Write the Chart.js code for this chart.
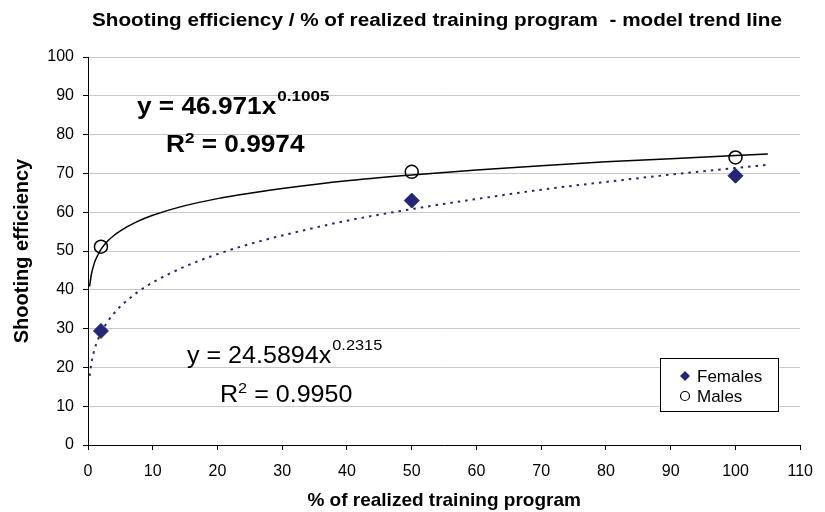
<!DOCTYPE html>
<html><head><meta charset="utf-8">
<script src="https://cdn.jsdelivr.net/npm/chart.js@4"></script>
<style>html,body{margin:0;padding:0;background:#fff}</style>
</head><body>
<canvas id="c" width="825" height="512"></canvas>
<script>
// ---- data ----
const chartTitle = "Shooting efficiency / % of realized training program  - model trend line";
const xTitle = "% of realized training program";
const yTitle = "Shooting efficiency";
const seriesNames = ["Females", "Males"];
const femalesX = [2, 50, 100];
const femalesY = [29.4, 63.0, 69.4];
const malesX = [2, 50, 100];
const malesY = [51.1, 70.4, 74.1];
// trend lines
const trendX = [0.25, 0.5, 1, 1.5, 2, 3, 4, 5, 7.5, 10, 15, 20, 25, 30, 40, 50, 60, 70, 80, 90, 100, 105];
const maleTrendY = [40.9, 43.8, 47.0, 48.9, 50.4, 52.5, 54.0, 55.2, 57.5, 59.2, 61.7, 63.5, 64.9, 66.1, 68.1, 69.6, 70.9, 72.0, 73.0, 73.8, 74.6, 75.0];
const femaleTrendY = [17.8, 20.9, 24.6, 27.0, 28.9, 31.7, 33.9, 35.7, 39.2, 41.9, 46.0, 49.2, 51.8, 54.0, 57.8, 60.8, 63.4, 65.8, 67.8, 69.7, 71.4, 72.2];
const maleEq = ["y = 46.971x", "0.1005", "0.9974"];
const femaleEq = ["y = 24.5894x", "0.2315", "0.9950"];
const xMin = 0, xMax = 110, xStep = 10;
const yMin = 0, yMax = 100, yStep = 10;

const NAVY = '#262676';
const FONT = "'Liberation Sans', Arial, sans-serif";
Chart.defaults.font.family = FONT;
Chart.defaults.color = '#000';

const pts = (xs, ys) => xs.map((x, i) => ({x, y: ys[i]}));

const overlay = {
  id: 'overlay',
  afterDraw(chart) {
    const ctx = chart.ctx;
    ctx.save();
    ctx.fillStyle = '#000';
    ctx.textBaseline = 'alphabetic';
    ctx.textAlign = 'left';

    function st(text, x, y, font, sx) {
      ctx.font = font;
      ctx.save();
      ctx.translate(x, y);
      ctx.scale(sx, 1);
      ctx.fillText(text, 0, 0);
      ctx.restore();
      return ctx.measureText(text).width * sx;
    }

    // title
    ctx.font = 'bold 18px ' + FONT;
    const tw = ctx.measureText(chartTitle).width;
    const tsx = 690 / tw;
    st(chartTitle, 437 - 345, 26, 'bold 18px ' + FONT, tsx);

    function eq(lines, x1, y1, x2, y2, weight, sx) {
      let w = st(lines[0], x1, y1, weight + ' 23px ' + FONT, sx);
      st(lines[1], x1 + w + 1, y1 - 13, weight + ' 15px ' + FONT, sx);
      let wr = st('R', x2, y2, weight + ' 23px ' + FONT, sx);
      let w2 = st('2', x2 + wr, y2 - 9, weight + ' 15px ' + FONT, sx);
      st(' = ' + lines[2], x2 + wr + w2, y2, weight + ' 23px ' + FONT, sx);
    }
    eq(maleEq, 137, 114, 166, 152, 'bold', 1.14);
    eq(femaleEq, 187, 363, 220, 402, 'normal', 1.09);

    // legend
    const lx = 660, ly = 358, lw = 118, lh = 53;
    ctx.fillStyle = '#fff';
    ctx.fillRect(lx, ly, lw, lh);
    ctx.strokeStyle = '#000';
    ctx.lineWidth = 1;
    ctx.strokeRect(lx + 0.5, ly + 0.5, lw, lh);
    ctx.font = '17px ' + FONT;
    let cy = 376;
    ctx.fillStyle = NAVY;
    ctx.beginPath();
    ctx.moveTo(685, cy - 5); ctx.lineTo(690, cy); ctx.lineTo(685, cy + 5); ctx.lineTo(680, cy);
    ctx.closePath(); ctx.fill();
    ctx.fillStyle = '#000';
    ctx.fillText(seriesNames[0], 697, 382);
    cy = 396;
    ctx.beginPath();
    ctx.arc(685, cy, 4.5, 0, Math.PI * 2);
    ctx.strokeStyle = '#000'; ctx.lineWidth = 1.2; ctx.stroke();
    ctx.fillText(seriesNames[1], 697, 402);
    ctx.restore();
  }
};

new Chart(document.getElementById('c'), {
  type: 'scatter',
  data: {
    datasets: [
      { label: seriesNames[0], data: pts(femalesX, femalesY), pointStyle: 'rectRot', pointRadius: 7.5,
        backgroundColor: NAVY, borderColor: NAVY, borderWidth: 1 },
      { label: seriesNames[1], data: pts(malesX, malesY), pointStyle: 'circle', pointRadius: 6.5,
        backgroundColor: 'rgba(255,255,255,0)', borderColor: '#000', borderWidth: 1.5 },
      { label: 'Males trend', data: pts(trendX, maleTrendY), showLine: true, pointRadius: 0,
        borderColor: '#000', borderWidth: 1.5, cubicInterpolationMode: 'monotone' },
      { label: 'Females trend', data: pts(trendX, femaleTrendY), showLine: true, pointRadius: 0,
        borderColor: NAVY, borderWidth: 2, borderDash: [2.5, 5], cubicInterpolationMode: 'monotone' }
    ]
  },
  options: {
    responsive: false,
    animation: false,
    layout: { padding: { top: 57, left: 0, right: 17, bottom: 0 } },
    plugins: { legend: { display: false }, title: { display: false }, tooltip: { enabled: false } },
    scales: {
      x: {
        type: 'linear', min: xMin, max: xMax,
        ticks: { stepSize: xStep, font: { size: 16 }, color: '#000', padding: 12, maxRotation: 0 },
        grid: { drawOnChartArea: false, tickLength: 5, tickColor: '#000' },
        border: { color: '#000', width: 1 },
        title: { display: true, text: xTitle, font: { size: 19, weight: 'bold' }, color: '#000', padding: { top: 0, bottom: 0 } },
        afterFit(s) { s.height = 67; }
      },
      y: {
        type: 'linear', min: yMin, max: yMax,
        ticks: { stepSize: yStep, font: { size: 16 }, color: '#000', padding: 9 },
        grid: { color: '#c8c8c8', tickLength: 5, tickColor: '#000' },
        border: { color: '#000', width: 1 },
        title: { display: true, text: yTitle, font: { size: 20, weight: 'bold' }, color: '#000', padding: { top: 10, bottom: 0 } },
        afterFit(s) { s.width = 88; }
      }
    }
  },
  plugins: [overlay]
});
</script>
</body></html>
